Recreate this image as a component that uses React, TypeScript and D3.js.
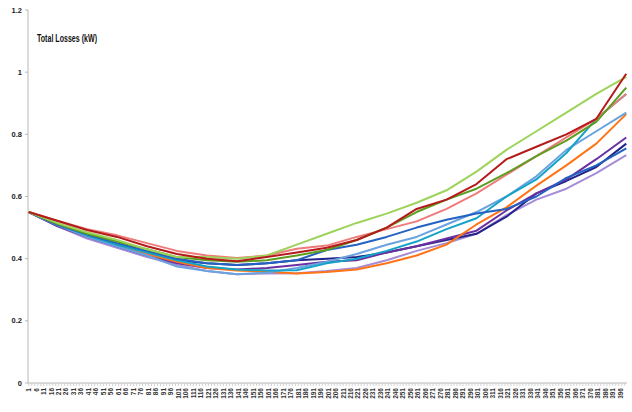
import React from "react";
import * as d3 from "d3";

const X_IDX = [1, 20, 40, 60, 80, 100, 120, 140, 160, 180, 200, 220, 240, 260, 280, 300, 320, 340, 360, 380, 400];

const lavender = [0.55, 0.505, 0.465, 0.435, 0.405, 0.38, 0.36, 0.35, 0.352, 0.353, 0.36, 0.37, 0.395, 0.425, 0.45, 0.48, 0.54, 0.59, 0.625, 0.675, 0.733];
const navy = [0.55, 0.508, 0.472, 0.445, 0.42, 0.395, 0.385, 0.38, 0.385, 0.395, 0.4, 0.405, 0.42, 0.44, 0.46, 0.48, 0.535, 0.61, 0.65, 0.695, 0.77];
const purple = [0.55, 0.505, 0.47, 0.44, 0.41, 0.385, 0.37, 0.365, 0.37, 0.38, 0.39, 0.395, 0.42, 0.44, 0.465, 0.49, 0.555, 0.61, 0.655, 0.72, 0.79];
const orange = [0.55, 0.51, 0.475, 0.445, 0.415, 0.39, 0.37, 0.362, 0.358, 0.352, 0.357, 0.365, 0.385, 0.41, 0.445, 0.51, 0.565, 0.635, 0.7, 0.77, 0.865];
const steel = [0.55, 0.508, 0.47, 0.44, 0.41, 0.375, 0.36, 0.35, 0.355, 0.37, 0.39, 0.415, 0.445, 0.47, 0.51, 0.55, 0.6, 0.665, 0.75, 0.81, 0.87];
const cyan = [0.55, 0.51, 0.475, 0.445, 0.42, 0.395, 0.375, 0.365, 0.362, 0.363, 0.385, 0.4, 0.425, 0.455, 0.495, 0.53, 0.6, 0.655, 0.74, 0.85, 0.93];
const blue = [0.55, 0.51, 0.478, 0.45, 0.425, 0.4, 0.385, 0.38, 0.385, 0.395, 0.428, 0.445, 0.47, 0.5, 0.525, 0.545, 0.56, 0.6, 0.66, 0.7, 0.755];
const pink = [0.55, 0.522, 0.495, 0.475, 0.45, 0.425, 0.41, 0.402, 0.41, 0.432, 0.442, 0.47, 0.495, 0.52, 0.56, 0.61, 0.67, 0.73, 0.79, 0.85, 0.93];
const green = [0.55, 0.512, 0.48, 0.455, 0.43, 0.405, 0.395, 0.39, 0.395, 0.41, 0.428, 0.46, 0.5, 0.55, 0.59, 0.625, 0.675, 0.73, 0.78, 0.84, 0.95];
const lightGreen = [0.55, 0.515, 0.485, 0.46, 0.43, 0.405, 0.405, 0.4, 0.41, 0.445, 0.48, 0.515, 0.545, 0.58, 0.62, 0.68, 0.75, 0.81, 0.87, 0.93, 0.985];
const darkRed = [0.55, 0.522, 0.492, 0.47, 0.44, 0.415, 0.4, 0.392, 0.405, 0.42, 0.435, 0.46, 0.5, 0.56, 0.59, 0.64, 0.72, 0.76, 0.8, 0.85, 0.995];

const SERIES = [
  { name: "lavender", values: lavender, color: "#a68bd6" },
  { name: "navy", values: navy, color: "#232489" },
  { name: "purple", values: purple, color: "#6a2fa0" },
  { name: "orange", values: orange, color: "#ff7415" },
  { name: "steel", values: steel, color: "#6aa2df" },
  { name: "cyan", values: cyan, color: "#14a3c7" },
  { name: "blue", values: blue, color: "#2462c2" },
  { name: "pink", values: pink, color: "#f07a7a" },
  { name: "green", values: green, color: "#5c9e1f" },
  { name: "lightGreen", values: lightGreen, color: "#9dd35a" },
  { name: "darkRed", values: darkRed, color: "#b41a1a" },
];

const Y_TICKS = [0, 0.2, 0.4, 0.6, 0.8, 1, 1.2];
const N_CATS = 400;
const X_LABELS = d3.range(1, N_CATS + 1, 5);
const TITLE = "Total Losses (kW)";

export default function App() {
  const left = 28, right = 627, top = 10, bottom = 383;
  const x = d3.scaleLinear().domain([0.5, N_CATS + 0.5]).range([left, right]);
  const y = d3.scaleLinear().domain([0, 1.2]).range([bottom, top]);
  const line = d3
    .line<[number, number]>()
    .x((d) => x(d[0]))
    .y((d) => y(d[1]));

  const minorTicks = d3.range(1, N_CATS + 1, 2);

  return (
    <svg
      width={632}
      height={412}
      style={{ position: "absolute", left: 0, top: 0, background: "#fff" }}
      fontFamily="'Liberation Sans', Arial, sans-serif"
    >
      <rect x={0} y={0} width={632} height={412} fill="#fff" />
      {/* y axis */}
      <line x1={left} x2={left} y1={top} y2={bottom} stroke="#b8b8b8" strokeWidth={1} />
      {Y_TICKS.map((t) => (
        <g key={t}>
          <line x1={left - 3} x2={left} y1={y(t)} y2={y(t)} stroke="#b8b8b8" />
          <text x={left - 6} y={y(t) + 2.5} fontSize={7.5} textAnchor="end" fill="#222" fontWeight="bold">
            {String(t)}
          </text>
        </g>
      ))}
      {/* x axis */}
      <line x1={left} x2={right} y1={bottom} y2={bottom} stroke="#b8b8b8" strokeWidth={1} />
      {minorTicks.map((i) => (
        <line key={i} x1={x(i)} x2={x(i)} y1={bottom} y2={bottom + 3} stroke="#c8c8c8" strokeWidth={0.8} />
      ))}
      {X_LABELS.map((i) => (
        <text
          key={i}
          transform={`translate(${x(i) + 2.3},${bottom + 5}) rotate(-90)`}
          fontSize={6.5}
          textAnchor="end"
          fill="#333"
          fontWeight="bold"
        >
          {String(i)}
        </text>
      ))}
      {/* lines */}
      {SERIES.map((s) => (
        <path
          key={s.name}
          d={line(X_IDX.map((xi, k) => [xi, s.values[k]] as [number, number])) || ""}
          fill="none"
          stroke={s.color}
          strokeWidth={2}
          strokeLinejoin="round"
        />
      ))}
      <text x={37} y={42} fontSize={10} fontWeight="bold" fill="#111" textLength={60} lengthAdjust="spacingAndGlyphs">
        {TITLE}
      </text>
    </svg>
  );
}
